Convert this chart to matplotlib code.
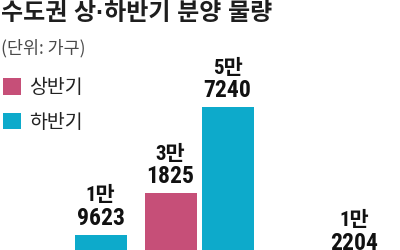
import matplotlib
matplotlib.use("Agg")
import matplotlib.pyplot as plt
import numpy as np
from matplotlib import font_manager as fm

# ---- data ----
groups = [0, 1, 2]
first_half = [np.nan, 31825, np.nan]      # 상반기 (visible values only)
second_half = [19623, 57240, 12204]       # 하반기
series_names = ["상반기", "하반기"]
title = "수도권 상·하반기 분양 물량"
unit = "(단위: 가구)"

PINK = "#C64F78"
CYAN = "#0DAACB"

names = {f.name for f in fm.fontManager.ttflist}
if "Liberation Sans Narrow" in names:
    NUM = "Liberation Sans Narrow"
elif "Roboto Condensed" in names:
    NUM = "Roboto Condensed"
else:
    NUM = "Roboto"
KR = "Noto Sans CJK KR"

W, H = 400, 250
fig = plt.figure(figsize=(W / 100, H / 100), dpi=100)
fig.patch.set_facecolor("white")

# axes extends below the figure (chart is cropped at the bottom)
base_px = 301
ax = fig.add_axes([0, (H - base_px) / H, 1, base_px / H])
ax.set_facecolor("none")
for s in ax.spines.values():
    s.set_visible(False)
ax.set_xticks([])
ax.set_yticks([])

spacing = 127.0
x0 = 72.0
ax.set_xlim(-x0 / spacing, (W - x0) / spacing)
ax.set_ylim(0, 89000)

bw = 52 / spacing
off = 28.5 / spacing
x = np.array(groups, dtype=float)
b1 = ax.bar(x - off, first_half, width=bw, color=PINK, label=series_names[0])
b2 = ax.bar(x + off, second_half, width=bw, color=CYAN, label=series_names[1])


def label(xc, v):
    if np.isnan(v):
        return
    v = int(v)
    man, rest = divmod(v, 10000)
    ax.annotate(f"{man}만", (xc, v), xytext=(0, 24), textcoords="offset points",
                ha="center", va="baseline", fontsize=15, color="#111111",
                fontweight="bold", family=[NUM, KR], annotation_clip=False)
    ax.annotate(f"{rest:04d}", (xc, v), xytext=(0, 7.2), textcoords="offset points",
                ha="center", va="baseline", fontsize=17, color="#111111",
                fontweight="bold", family=[NUM, KR], annotation_clip=False)


for xi, v in zip(x - off, first_half):
    label(xi, v)
for xi, v in zip(x + off, second_half):
    label(xi, v)

fig.text(1 / W, 1 - 13 / H, title, fontsize=17.3, fontweight="heavy",
         color="#1e1e1e", family=["Liberation Sans", KR], ha="left", va="center")
fig.text(1 / W, 1 - 48 / H, unit, fontsize=12.5, color="#4a4a4a",
         family=[KR], ha="left", va="center")

fs = 14
leg = ax.legend(handles=[b1, b2], labels=series_names, loc="upper left",
                bbox_to_anchor=(3 / W, 1 - 77 / H), bbox_transform=fig.transFigure,
                frameon=False, borderpad=0, borderaxespad=0,
                handlelength=18 / (fs * 100 / 72), handleheight=18 / (fs * 100 / 72),
                handletextpad=0.4, labelspacing=0.7,
                prop=fm.FontProperties(family=[KR], size=fs))
for t in leg.get_texts():
    t.set_color("#222222")

fig.savefig("out.png", dpi=100, facecolor="white")
